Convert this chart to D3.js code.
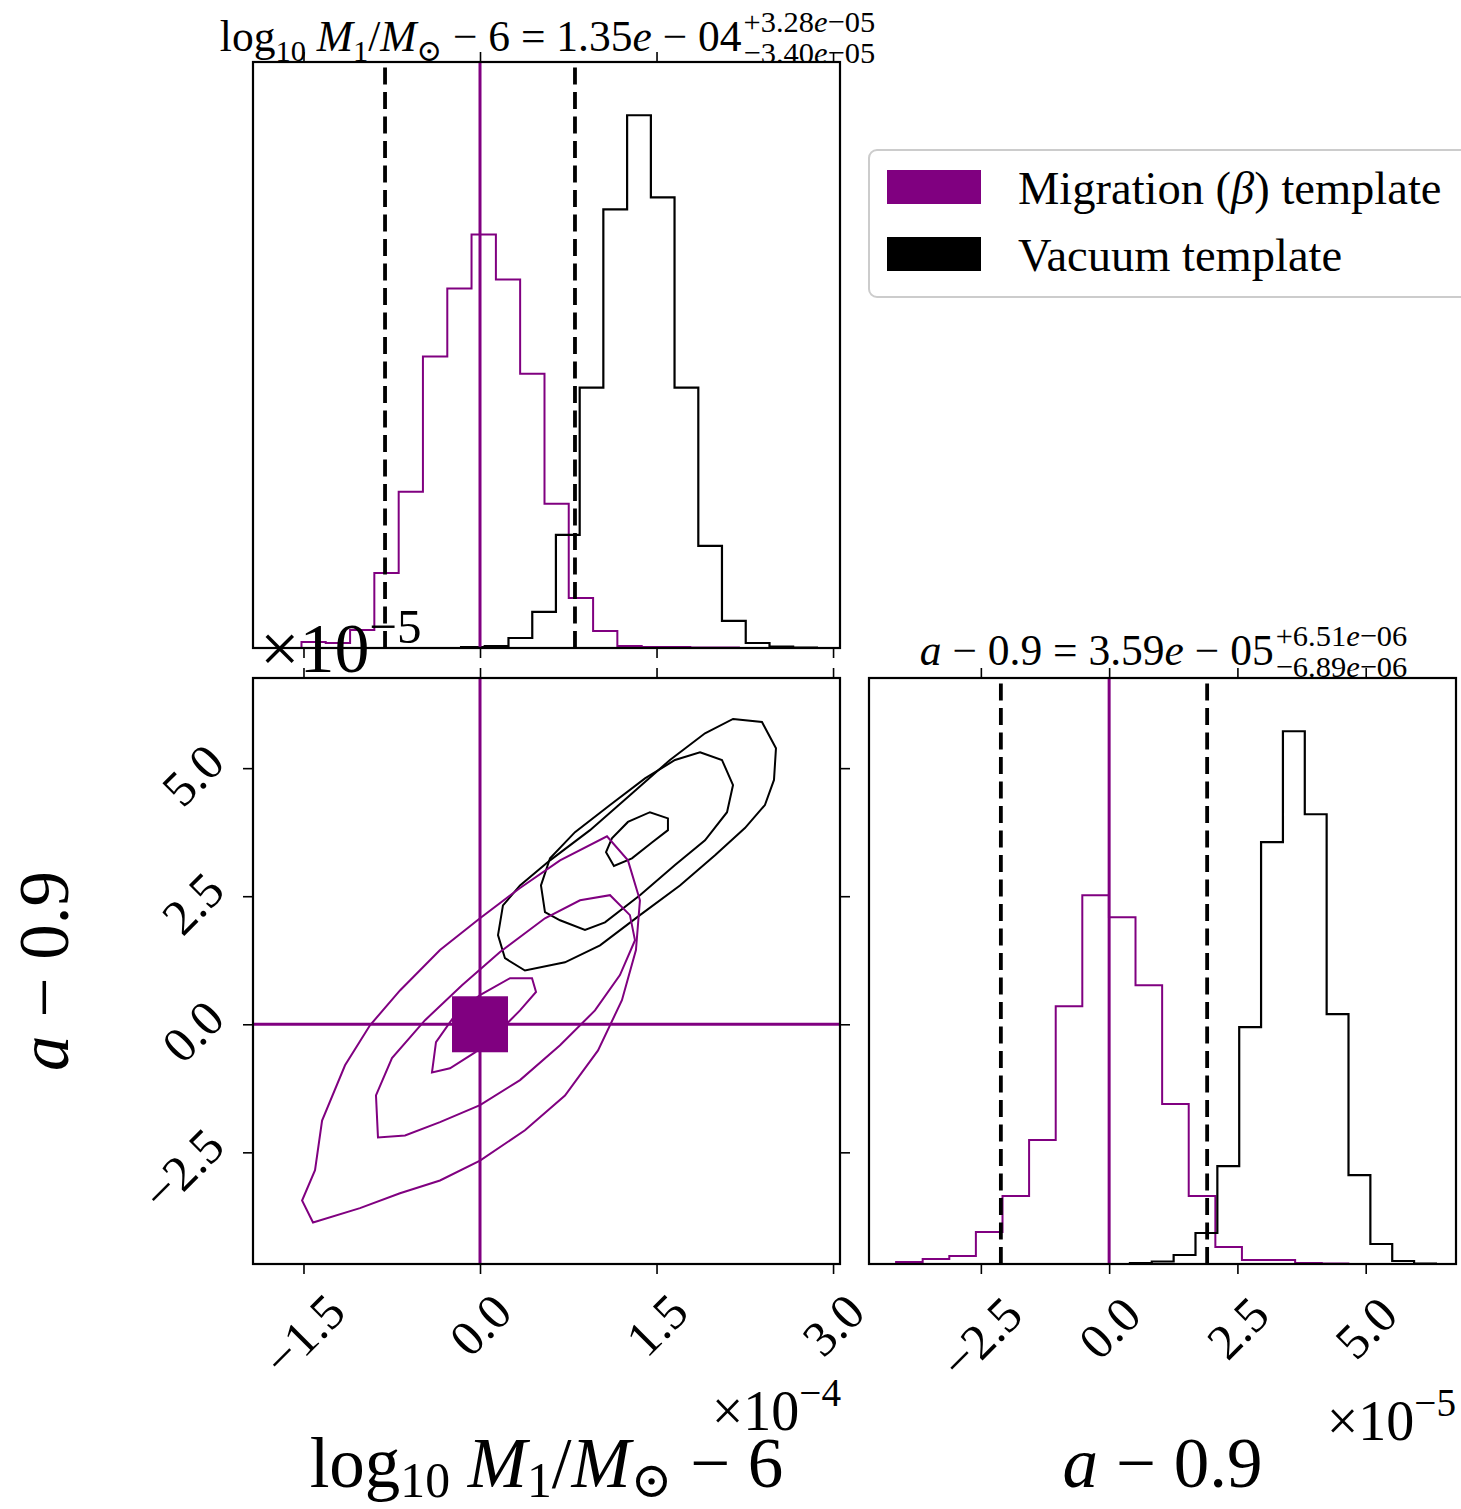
<!DOCTYPE html>
<html>
<head>
<meta charset="utf-8">
<title>Corner plot</title>
<script src="https://d3js.org/d3.v7.min.js"></script>
<style>
  body { margin: 0; background: #fff; }
  text { font-family: "Liberation Serif", "DejaVu Serif", serif; fill: #000; }
</style>
</head>
<body>
<script>
// mass offset is in units of 1e-4, spin offset in units of 1e-5
const massRange = [-1.929, 3.059];
const spinRange = [-4.68, 6.76];
const massTicks = [-1.5, 0.0, 1.5, 3.0];
const spinTicks = [-2.5, 0.0, 2.5, 5.0];

// 1d histograms (bin edges + heights)
const migMassEdges = [-1.930, -1.724, -1.517, -1.311, -1.104, -0.898, -0.691, -0.485, -0.278, -0.072, 0.135, 0.341, 0.548, 0.754, 0.961, 1.167, 1.374, 1.580, 1.787, 1.993, 2.200];
const migMassCounts = [0, 0, 6, 5, 18, 75, 156, 291, 359, 413, 368, 274, 144, 50, 17, 2, 1, 1, 0.5, 0.5];
const vacMassEdges = [-0.161, 0.040, 0.242, 0.444, 0.645, 0.847, 1.048, 1.250, 1.452, 1.653, 1.855, 2.056, 2.258, 2.460, 2.661, 2.863];
const vacMassCounts = [1, 2, 10, 36, 113, 260, 438, 532, 450, 260, 102, 27, 5, 1.5, 0.5];

const migSpinEdges = [-4.670, -4.152, -3.634, -3.115, -2.597, -2.078, -1.560, -1.041, -0.523, -0.004, 0.514, 1.033, 1.551, 2.070, 2.588, 3.107, 3.625, 4.144, 4.662];
const migSpinCounts = [0, 2, 5, 8, 32, 68, 124, 258, 369, 347, 279, 160, 68, 17, 4, 4, 1, 0.5];
const vacSpinEdges = [0.405, 0.831, 1.257, 1.683, 2.109, 2.535, 2.961, 3.387, 3.813, 4.239, 4.665, 5.091, 5.517, 5.943, 6.369];
const vacSpinCounts = [1, 2.5, 9, 31, 98, 237, 422, 533, 450, 250, 89, 20, 3, 0.5];

// quantile markers and truth values
const massQuantiles = [-0.807, 0.807];
const spinQuantiles = [-2.11, 1.91];
const massTruth = 0.0;
const spinTruth = 0.0;

// 2d contour levels, [mass, spin]
const vacContours = [
  [[1.071,3.36],[1.121,3.63],[1.257,3.95],[1.444,4.14],[1.597,4.02],[1.597,3.79],[1.461,3.55],[1.291,3.24],[1.138,3.09]],
  [[1.869,5.31],[2.056,5.16],[2.150,4.67],[2.099,4.14],[1.912,3.59],[1.657,3.11],[1.359,2.52],[1.062,1.99],[0.892,1.84],[0.680,2.03],[0.552,2.19],[0.518,2.71],[0.595,3.24],[0.807,3.75],[1.105,4.28],[1.402,4.80],[1.657,5.16]],
  [[2.150,5.96],[2.396,5.90],[2.515,5.39],[2.498,4.77],[2.421,4.28],[2.251,3.83],[1.997,3.30],[1.699,2.71],[1.359,2.13],[1.020,1.54],[0.722,1.21],[0.382,1.05],[0.212,1.29],[0.153,1.74],[0.195,2.32],[0.340,2.71],[0.595,3.20],[0.935,3.79],[1.274,4.47],[1.614,5.16],[1.912,5.68]]
];
const migContours = [
  [[-0.408,-0.94],[-0.374,-0.35],[-0.212,0.18],[0.000,0.57],[0.255,0.90],[0.442,0.90],[0.476,0.63],[0.340,0.27],[0.153,-0.16],[-0.042,-0.55],[-0.255,-0.86]],
  [[-0.867,-2.21],[-0.884,-1.39],[-0.748,-0.66],[-0.467,0.08],[-0.153,0.76],[0.170,1.41],[0.552,2.07],[0.850,2.42],[1.105,2.52],[1.274,2.13],[1.317,1.64],[1.189,0.96],[0.977,0.27],[0.680,-0.41],[0.340,-1.09],[0.000,-1.58],[-0.340,-1.91],[-0.637,-2.17]],
  [[-1.419,-3.87],[-1.512,-3.44],[-1.402,-2.85],[-1.342,-1.88],[-1.147,-0.80],[-0.935,-0.02],[-0.680,0.66],[-0.340,1.45],[0.000,2.07],[0.340,2.66],[0.680,3.20],[1.079,3.67],[1.257,3.20],[1.359,2.42],[1.325,1.45],[1.206,0.47],[1.003,-0.51],[0.722,-1.39],[0.382,-2.07],[0.000,-2.66],[-0.340,-3.05],[-0.680,-3.30],[-1.020,-3.59]]
];

const legendLabels = ["Migration", "Vacuum template"];
const purple = "#800080";
const fmt = v => v.toFixed(1).replace("-", "\u2212");
const tickFont = 50;

const svg = d3.select("body").append("svg").attr("width", 1461).attr("height", 1509);

const xMass = d3.scaleLinear().domain(massRange).range([253, 840]);
const ySpin = d3.scaleLinear().domain(spinRange).range([1264, 678]);
const xSpin = d3.scaleLinear().domain(spinRange).range([869, 1456]);
const yTop = d3.scaleLinear().domain([0, 1.1 * d3.max(migMassCounts.concat(vacMassCounts))]).range([648, 62]);
const yBr = d3.scaleLinear().domain([0, 1.1 * d3.max(migSpinCounts.concat(vacSpinCounts))]).range([1264, 678]);

function stepPath(edges, counts, x, y) {
  const pts = [[x(edges[0]), y(0)]];
  counts.forEach((c, i) => { pts.push([x(edges[i]), y(c)], [x(edges[i + 1]), y(c)]); });
  pts.push([x(edges[edges.length - 1]), y(0)]);
  return d3.line()(pts);
}

// math-ish text with tspans: parts = [{t, it, sub, sup}]
function mathText(parent, parts, size, subShift = 0.22) {
  const t = parent.append("text").style("font-size", size + "px");
  let shift = 0;
  parts.forEach(p => {
    const target = p.sub ? size * subShift : p.sup ? -size * 0.42 : 0;
    const ts = t.append("tspan").text(p.t)
      .style("font-style", p.it ? "italic" : "normal")
      .style("font-size", (p.sub || p.sup ? size * 0.7 : size) + "px");
    if (target !== shift) { ts.attr("dy", target - shift); shift = target; }
  });
  return t;
}

function sciParts(s) {
  const [m, e] = s.split("e");
  return [{t: m.replace("-", "\u2212")}, {t: "e", it: true}, {t: e.replace("-", "\u2212")}];
}

function title(parts, up, dn, cx, base, size) {
  const g = svg.append("g");
  const main = mathText(g, parts, size);
  const sp = mathText(g, sciParts(up), size * 0.7);
  const sb = mathText(g, sciParts(dn), size * 0.7);
  const w1 = main.node().getComputedTextLength();
  const w2 = Math.max(sp.node().getComputedTextLength(), sb.node().getComputedTextLength());
  const x0 = cx - (w1 + w2) / 2;
  main.attr("x", x0).attr("y", base);
  sp.attr("x", x0 + w1 + 2).attr("y", base - 19);
  sb.attr("x", x0 + w1 + 2).attr("y", base + 12);
}

function frame(x0, x1, y0, y1) {
  svg.append("rect").attr("x", x0).attr("y", y0).attr("width", x1 - x0).attr("height", y1 - y0)
    .attr("fill", "none").attr("stroke", "#000").attr("stroke-width", 2.2);
}

function ticks(axis, tr) {
  svg.append("g").attr("transform", tr)
    .call(axis.tickSize(10).tickFormat(() => ""))
    .call(g => g.select(".domain").remove())
    .call(g => g.selectAll("line").attr("stroke", "#000").attr("stroke-width", 1.6));
}

function xLabels(scale, vals, top) {
  vals.forEach(v => {
    const t = svg.append("text").text(fmt(v)).style("font-size", tickFont + "px").attr("text-anchor", "end");
    const L = t.node().getComputedTextLength(), H = tickFont * 0.7;
    const xe = scale(v) + (L + H) / (2 * Math.SQRT2), ye = top + H / Math.SQRT2;
    t.attr("transform", `translate(${xe},${ye}) rotate(-45)`);
  });
}

function vline(x, y0, y1, color, w, dash) {
  const l = svg.append("line").attr("x1", x).attr("x2", x).attr("y1", y0).attr("y2", y1)
    .attr("stroke", color).attr("stroke-width", w);
  if (dash) l.attr("stroke-dasharray", dash);
}

// ---------- top-left: mass histogram ----------
svg.append("path").attr("d", stepPath(migMassEdges, migMassCounts, xMass, yTop))
  .attr("fill", "none").attr("stroke", purple).attr("stroke-width", 2);
svg.append("path").attr("d", stepPath(vacMassEdges, vacMassCounts, xMass, yTop))
  .attr("fill", "none").attr("stroke", "#000").attr("stroke-width", 2.2);
massQuantiles.forEach(q => vline(xMass(q), 648, 62, "#000", 3.8, "17,7.5"));
vline(xMass(massTruth), 648, 62, purple, 3);
frame(253, 840, 62, 648);
ticks(d3.axisBottom(xMass).tickValues(massTicks), "translate(0,648)");
ticks(d3.axisTop(xMass).tickValues(massTicks), "translate(0,62)");

// ---------- bottom-right: spin histogram ----------
svg.append("path").attr("d", stepPath(migSpinEdges, migSpinCounts, xSpin, yBr))
  .attr("fill", "none").attr("stroke", purple).attr("stroke-width", 2);
svg.append("path").attr("d", stepPath(vacSpinEdges, vacSpinCounts, xSpin, yBr))
  .attr("fill", "none").attr("stroke", "#000").attr("stroke-width", 2.2);
spinQuantiles.forEach(q => vline(xSpin(q), 1264, 678, "#000", 3.8, "17,7.5"));
vline(xSpin(spinTruth), 1264, 678, purple, 3);
frame(869, 1456, 678, 1264);
ticks(d3.axisBottom(xSpin).tickValues(spinTicks), "translate(0,1264)");
ticks(d3.axisTop(xSpin).tickValues(spinTicks), "translate(0,678)");
xLabels(xSpin, spinTicks, 1293);

// ---------- bottom-left: 2d contours ----------
const cline = d3.line().x(d => xMass(d[0])).y(d => ySpin(d[1])).curve(d3.curveLinearClosed);
svg.append("g").selectAll("path").data(vacContours).join("path")
  .attr("d", cline).attr("fill", "none").attr("stroke", "#000").attr("stroke-width", 2);
svg.append("g").selectAll("path").data(migContours).join("path")
  .attr("d", cline).attr("fill", "none").attr("stroke", purple).attr("stroke-width", 2);
vline(xMass(massTruth), 1264, 678, purple, 3);
svg.append("line").attr("x1", 253).attr("x2", 840).attr("y1", ySpin(spinTruth)).attr("y2", ySpin(spinTruth))
  .attr("stroke", purple).attr("stroke-width", 3);
svg.append("rect").attr("x", xMass(massTruth) - 28).attr("y", ySpin(spinTruth) - 28)
  .attr("width", 56).attr("height", 56).attr("fill", purple);
frame(253, 840, 678, 1264);
ticks(d3.axisBottom(xMass).tickValues(massTicks), "translate(0,1264)");
ticks(d3.axisTop(xMass).tickValues(massTicks), "translate(0,678)");
ticks(d3.axisLeft(ySpin).tickValues(spinTicks), "translate(253,0)");
ticks(d3.axisRight(ySpin).tickValues(spinTicks), "translate(840,0)");
xLabels(xMass, massTicks, 1290);
spinTicks.forEach(v => {
  svg.append("text").text(fmt(v)).style("font-size", tickFont + "px").attr("text-anchor", "end")
    .attr("transform", `translate(227,${ySpin(v) - 3}) rotate(-45)`);
});

// ---------- titles ----------
title([{t: "log"}, {t: "10", sub: true}, {t: " "}, {t: "M", it: true}, {t: "1", sub: true}, {t: "/"},
       {t: "M", it: true}, {t: "\u2299", sub: true}, {t: " \u2212 6 = 1.35"}, {t: "e", it: true}, {t: " \u2212 04"}],
      "+3.28e-05", "-3.40e-05", 546.5, 51, 43.5);
title([{t: "a", it: true}, {t: " \u2212 0.9 = 3.59"}, {t: "e", it: true}, {t: " \u2212 05"}],
      "+6.51e-06", "-6.89e-06", 1162.5, 665, 43.5);

// ---------- axis labels ----------
mathText(svg, [{t: "log"}, {t: "10", sub: true}, {t: " "}, {t: "M", it: true}, {t: "1", sub: true}, {t: "/"},
               {t: "M", it: true}, {t: "\u2299", sub: true}, {t: " \u2212 6"}], 71, 0.14)
  .attr("x", 546.5).attr("y", 1487).attr("text-anchor", "middle");
mathText(svg, [{t: "a", it: true}, {t: " \u2212 0.9"}], 71)
  .attr("x", 1162.5).attr("y", 1487).attr("text-anchor", "middle");
mathText(svg, [{t: "a", it: true}, {t: " \u2212 0.9"}], 71)
  .attr("text-anchor", "middle").attr("transform", "translate(68,971) rotate(-90)");

// offset texts
mathText(svg, [{t: "\u00d710"}, {t: "\u22124", sup: true}], 56)
  .attr("x", 841).attr("y", 1430).attr("text-anchor", "end");
mathText(svg, [{t: "\u00d710"}, {t: "\u22125", sup: true}], 56)
  .attr("x", 1456).attr("y", 1440).attr("text-anchor", "end");
mathText(svg, [{t: "\u00d710"}, {t: "\u22125", sup: true}], 70)
  .attr("x", 260).attr("y", 672);

// ---------- legend ----------
const leg = svg.append("g");
leg.append("rect").attr("x", 869).attr("y", 150).attr("width", 610).attr("height", 147).attr("rx", 8)
  .attr("fill", "#fff").attr("stroke", "#cccccc").attr("stroke-width", 2);
[purple, "#000"].forEach((c, i) => {
  leg.append("rect").attr("x", 887).attr("y", 170 + i * 67).attr("width", 94).attr("height", 34).attr("fill", c);
});
mathText(leg, [{t: "Migration ("}, {t: "\u03b2", it: true}, {t: ") template"}], 46.5).attr("x", 1018).attr("y", 204);
leg.append("text").text(legendLabels[1]).style("font-size", "46.5px").attr("x", 1018).attr("y", 271);
</script>
</body>
</html>
